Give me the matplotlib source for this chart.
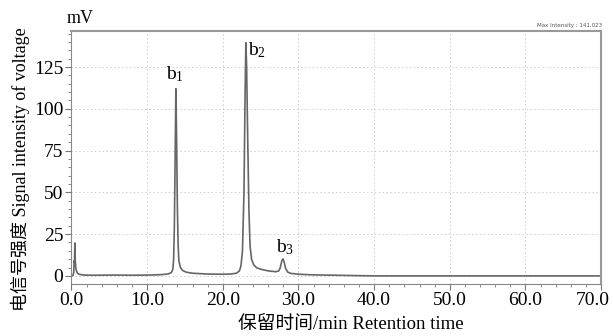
import matplotlib.pyplot as plt
from matplotlib.ticker import MultipleLocator, FuncFormatter

# chromatogram trace (min, mV)
time_min = [0.0, 0.2, 0.3, 0.35, 0.4, 0.45, 0.5, 0.55, 0.6, 0.7, 0.8, 1.0, 1.3, 1.7, 2.5,
            6.0, 8.0, 10.0, 11.0, 12.0, 12.8, 13.2, 13.4, 13.5, 13.6, 13.7, 13.8, 13.9,
            14.0, 14.1, 14.2, 14.4, 14.7, 15.2, 16.0, 18.0, 20.0, 21.0, 21.8, 22.2, 22.4,
            22.6, 22.8, 22.95, 23.05, 23.15, 23.3, 23.45, 23.6, 23.8, 24.1, 24.5, 25.0,
            26.0, 27.0, 27.4, 27.6, 27.8, 27.95, 28.1, 28.3, 28.6, 29.0, 30.0, 32.0,
            35.0, 36.0, 40.0, 70.0]
signal_mv = [0.0, 0.3, 2.0, 9.0, 8.0, 19.7, 9.0, 6.0, 4.0, 2.5, 1.6, 1.0, 0.7, 0.5, 0.4,
             0.5, 0.4, 0.5, 0.6, 0.8, 1.2, 2.0, 4.0, 10.0, 30.0, 70.0, 112.0, 80.0,
             40.0, 18.0, 9.0, 5.0, 3.2, 2.2, 1.6, 1.1, 1.0, 1.1, 1.6, 3.0, 6.0,
             15.0, 50.0, 110.0, 139.5, 125.0, 80.0, 40.0, 18.0, 10.0, 6.5, 4.8, 4.0,
             3.0, 2.5, 3.0, 5.0, 9.0, 10.2, 8.5, 4.5, 2.2, 1.5, 1.0, 0.6,
             0.4, 0.3, 0.0, 0.0]

peak_labels = ['b$_1$', 'b$_2$', 'b$_3$']
peak_label_pos = [(13.7, 121), (24.5, 135), (28.3, 17)]

x_max = 70

plt.rcParams['font.family'] = ['Liberation Serif', 'Noto Sans CJK SC']
plt.rcParams['mathtext.fontset'] = 'custom'
plt.rcParams['mathtext.rm'] = 'Liberation Serif'
plt.rcParams['mathtext.it'] = 'Liberation Serif'
plt.rcParams['mathtext.default'] = 'rm'

fig = plt.figure(figsize=(6.13, 3.36), dpi=100)
ax = fig.add_axes([0.1166, 0.155, 0.864, 0.7525])

ax.plot(time_min, signal_mv, color='#666666', lw=1.2)

ax.set_xlim(0, x_max)
ax.set_ylim(-4.8, 146.5)
ax.xaxis.set_major_locator(MultipleLocator(10))
ax.xaxis.set_minor_locator(MultipleLocator(2))
# last label is drawn by hand, pulled in so it stays inside the figure
ax.xaxis.set_major_formatter(FuncFormatter(lambda v, p: '' if v >= x_max else f'{v:.1f}'))
ax.yaxis.set_minor_locator(MultipleLocator(5))
ax.set_yticks([0, 25, 50, 75, 100, 125])
ax.tick_params(labelsize=14, color='#777777', length=4, width=0.8, pad=2)
ax.tick_params(which='minor', color='#777777', length=2, width=0.6)
ax.grid(True, which='major', ls=(0, (1.5, 2.5)), color='#cccccc', lw=0.7)

ax.annotate(f'{x_max:.1f}', xy=(x_max, 0), xycoords=('data', 'axes fraction'),
            xytext=(6, -6), textcoords='offset points', ha='right', va='top', fontsize=14)

for side in ['top', 'right']:
    ax.spines[side].set_color('#999999')
    ax.spines[side].set_linewidth(1.5)
for side in ['left', 'bottom']:
    ax.spines[side].set_color('#888888')
    ax.spines[side].set_linewidth(0.8)

ax.set_xlabel('保留时间/min Retention time', fontsize=13.5, labelpad=0)
ax.xaxis.set_label_coords(0.528, -0.125)
ax.set_ylabel('电信号强度 Signal intensity of voltage', fontsize=13, labelpad=2)
ax.yaxis.set_label_coords(-0.078, 0.455)

for lab, (x, y) in zip(peak_labels, peak_label_pos):
    ax.text(x, y, lab, fontsize=14, ha='center', va='center')

fig.text(0.13, 0.945, 'mV', fontsize=13, ha='center', va='center')
fig.text(0.983, 0.925, 'Max Intensity : 141,023', fontsize=4, color='#555555',
         family='DejaVu Sans', ha='right', va='center')

fig.savefig('out.png', dpi=100)
